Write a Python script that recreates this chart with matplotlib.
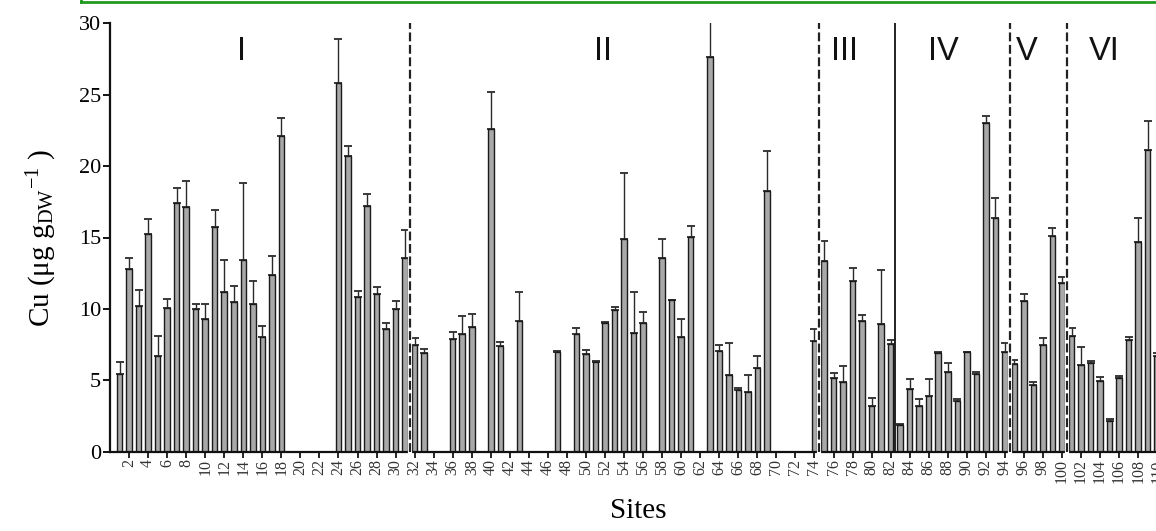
import numpy as np
import matplotlib
matplotlib.use("Agg")
import matplotlib.pyplot as plt
from matplotlib.lines import Line2D

plt.rcParams['font.family'] = ['Liberation Serif', 'DejaVu Serif']
plt.rcParams['mathtext.fontset'] = 'custom'
plt.rcParams['mathtext.rm'] = 'Liberation Serif'
plt.rcParams['mathtext.it'] = 'Liberation Serif:italic'

# --- data -------------------------------------------------------------
sites = list(range(1, 111))
cu_mean = {
    1: 5.44, 2: 12.77, 3: 10.2, 4: 15.22, 5: 6.72, 6: 10.04, 7: 17.39, 8: 17.11,
    9: 9.97, 10: 9.27, 11: 15.71, 12: 11.2, 13: 10.5, 14: 13.45, 15: 10.37,
    16: 8.03, 17: 12.4, 18: 22.09, 24: 25.82, 25: 20.69, 26: 10.86, 27: 17.21,
    28: 11.04, 29: 8.57, 30: 9.99, 31: 13.54, 32: 7.47, 33: 6.93, 36: 7.89,
    37: 8.24, 38: 8.73, 40: 22.58, 41: 7.4, 43: 9.13, 47: 6.96, 49: 8.24,
    50: 6.86, 51: 6.3, 52: 9.01, 53: 9.9, 54: 14.92, 55: 8.34, 56: 9.04,
    58: 13.54, 59: 10.6, 60: 8.03, 61: 15.06, 63: 27.67, 64: 7.03, 65: 5.37,
    66: 4.32, 67: 4.16, 68: 5.86, 69: 18.23, 74: 7.77, 75: 13.35, 76: 5.14,
    77: 4.86, 78: 11.95, 79: 9.18, 80: 3.18, 81: 8.94, 82: 7.56, 83: 1.84,
    84: 4.37, 85: 3.22, 86: 3.88, 87: 6.91, 88: 5.6, 89: 3.55, 90: 6.98,
    91: 5.46, 92: 23.0, 93: 16.39, 94: 6.96, 95: 6.16, 96: 10.53, 97: 4.67,
    98: 7.45, 99: 15.13, 100: 11.79, 101: 8.12, 102: 6.05, 103: 6.21,
    104: 4.97, 105: 2.12, 106: 5.18, 107: 7.82, 108: 14.71, 109: 21.13,
    110: 6.7,
}
cu_upper = {
    1: 6.3, 2: 13.54, 3: 11.32, 4: 16.27, 5: 8.1, 6: 10.7, 7: 18.5, 8: 18.96,
    9: 10.37, 10: 10.37, 11: 16.9, 12: 13.4, 13: 11.63, 14: 18.82, 15: 11.95,
    16: 8.78, 17: 13.73, 18: 23.35, 24: 28.88, 25: 21.39, 26: 11.28, 27: 18.02,
    28: 11.56, 29: 8.99, 30: 10.58, 31: 15.5, 32: 7.98, 33: 7.19, 36: 8.36,
    37: 9.53, 38: 9.62, 40: 25.22, 41: 7.66, 43: 11.16, 47: 7.07, 49: 8.64,
    50: 7.12, 51: 6.37, 52: 9.08, 53: 10.16, 54: 19.5, 55: 11.16, 56: 9.81,
    58: 14.92, 59: 10.6, 60: 9.27, 61: 15.78, 63: 31.5, 64: 7.45, 65: 7.61,
    66: 4.48, 67: 5.37, 68: 6.68, 69: 21.06, 74: 8.57, 75: 14.78, 76: 5.53,
    77: 6.02, 78: 12.84, 79: 9.55, 80: 3.74, 81: 12.72, 82: 7.82, 83: 1.94,
    84: 5.07, 85: 3.67, 86: 5.09, 87: 7.0, 88: 6.23, 89: 3.67, 90: 7.0,
    91: 5.6, 92: 23.51, 93: 17.79, 94: 7.63, 95: 6.42, 96: 11.07, 97: 4.86,
    98: 7.98, 99: 15.69, 100: 12.21, 101: 8.66, 102: 7.35, 103: 6.35,
    104: 5.21, 105: 2.26, 106: 5.32, 107: 8.01, 108: 16.34, 109: 23.18,
    110: 6.9,
}
group_labels = ['I', 'II', 'III', 'IV', 'V', 'VI']
group_label_x = [13.8, 51.8, 77.2, 87.5, 96.3, 104.4]
dashed_bounds = [31.5, 74.5, 94.5, 100.5]
solid_bounds = [82.5]
y_ticks = [0, 5, 10, 15, 20, 25, 30]
x_ticks = list(range(2, 111, 2))

# --- figure -------------------------------------------------------------
W, H = 1156, 531
fig = plt.figure(figsize=(W / 100, H / 100), dpi=100)
ax_left = 110 / W
ax_bottom = (H - 451.7) / H
ax_height = (451.7 - 23.3) / H
ax_width = 111 * 9.52 / W
ax = fig.add_axes([ax_left, ax_bottom, ax_width, ax_height])

xs = [s for s in sites if s in cu_mean]
vals = np.array([cu_mean[s] for s in xs])
ups = np.array([cu_upper[s] for s in xs])
err = np.clip(ups - vals, 0, None)

ax.bar(xs, vals, width=0.58, color='#a8a8a8', edgecolor='#1a1a1a',
       linewidth=1.0, zorder=2)
ax.errorbar(xs, vals, yerr=[np.zeros_like(err), err], fmt='none',
            ecolor='#2a2a2a', elinewidth=1.0, capsize=2.9, capthick=1.3, zorder=1)

for xb in dashed_bounds:
    ax.plot([xb, xb], [0, 30], color='white', lw=3.0, zorder=3, clip_on=False)
    ax.plot([xb, xb], [0, 30], color='#222222', lw=1.6, ls=(0, (4, 1.6)),
            zorder=4, clip_on=False)
for xb in solid_bounds:
    ax.plot([xb, xb], [0, 30], color='#111111', lw=1.3, zorder=4)

for lab, gx in zip(group_labels, group_label_x):
    ax.text(gx, 28.0, lab, ha='center', va='center', fontsize=23.5,
            family=['Liberation Sans', 'DejaVu Sans'], color='#111111')

ax.set_xlim(0, 111)
ax.set_ylim(0, 30)
ax.set_yticks(y_ticks)
ax.set_yticklabels([str(t) for t in y_ticks], fontsize=16)
ax.set_xticks(x_ticks)
ax.set_xticklabels([str(t) for t in x_ticks], fontsize=11.5, rotation=90,
                   color='#333333')
ax.tick_params(axis='y', direction='out', length=5, width=1.3, pad=1.5)
ax.tick_params(axis='x', direction='out', length=4, width=1.2, pad=1.5)
for sp in ['top', 'right']:
    ax.spines[sp].set_visible(False)
for sp in ['left', 'bottom']:
    ax.spines[sp].set_linewidth(1.6)
    ax.spines[sp].set_color('#111111')

ax.set_ylabel(r'Cu ($\mathrm{\mu}$g g$_{\mathrm{DW}}$$^{\mathrm{-1}}$ )', fontsize=21,
              labelpad=14)
fig.text(638 / W, 1 - 511 / H, 'Sites', ha='center', va='center', fontsize=21)

# green frame edge at the top
fig.add_artist(Line2D([81 / W, 1.0], [1 - 2 / H, 1 - 2 / H],
                      transform=fig.transFigure, color='#1f9a1f', lw=2.0))
fig.add_artist(Line2D([81 / W, 81 / W], [1 - 2 / H, 1.0],
                      transform=fig.transFigure, color='#1f9a1f', lw=2.0))

fig.savefig('out.png', dpi=100)
